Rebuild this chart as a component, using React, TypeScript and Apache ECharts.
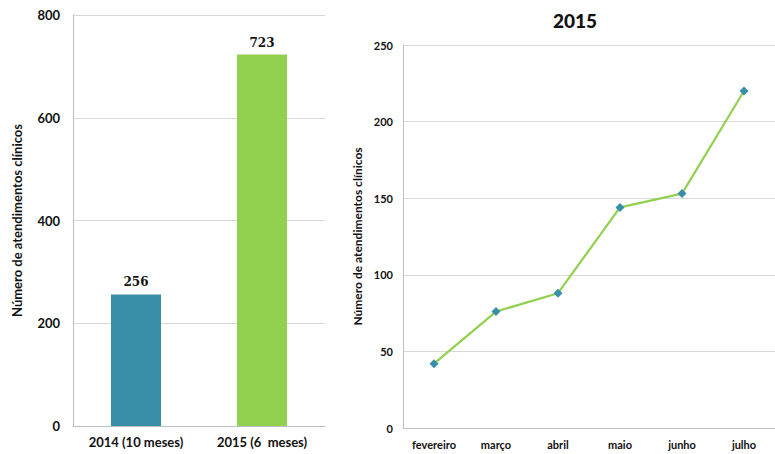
import React, { useEffect, useRef } from "react";
import * as echarts from "echarts";

const barCategories = ["2014 (10 meses)", "2015 (6  meses)"];
const barValues = [256, 723];
const barColors = ["#3a8fa8", "#92d050"];

const months = ["fevereiro", "março", "abril", "maio", "junho", "julho"];
const monthValues = [42, 76, 88, 144, 153, 220];

const yName = "Número de atendimentos clínicos";
const FONT = "Lato, 'Open Sans', sans-serif";

export default function App() {
  const ref = useRef<HTMLDivElement>(null);
  useEffect(() => {
    if (!ref.current) return;
    const chart = echarts.init(ref.current, undefined, { renderer: "svg" });
    chart.setOption({
      animation: false,
      backgroundColor: "#ffffff",
      title: {
        text: "2015",
        left: 570,
        top: 6,
        textAlign: "center",
        textStyle: { fontFamily: FONT, fontWeight: 900, fontSize: 19, color: "#111" },
      },
      grid: [
        { left: 73, top: 15, width: 252, height: 411 },
        { left: 403, top: 45, width: 384, height: 383 },
      ],
      xAxis: [
        {
          gridIndex: 0,
          type: "category",
          data: barCategories,
          axisLine: { lineStyle: { color: "#bfbfbf" } },
          axisTick: { show: false },
          axisLabel: { fontFamily: FONT, fontWeight: "bold", fontSize: 13, color: "#111", margin: 9 },
        },
        {
          gridIndex: 1,
          type: "category",
          data: months,
          axisLine: { lineStyle: { color: "#bfbfbf" } },
          axisTick: { show: false },
          axisLabel: { fontFamily: FONT, fontWeight: "bold", fontSize: 11, color: "#111", margin: 11 },
        },
      ],
      yAxis: [
        {
          gridIndex: 0,
          type: "value",
          min: 0,
          max: 800,
          interval: 200,
          name: yName,
          nameLocation: "middle",
          nameGap: 50,
          nameTextStyle: { fontFamily: FONT, fontWeight: "bold", fontSize: 13, color: "#111" },
          axisLine: { show: true, lineStyle: { color: "#bfbfbf" } },
          axisTick: { show: false },
          splitLine: { lineStyle: { color: "#d9d9d9" } },
          axisLabel: { fontFamily: FONT, fontWeight: "bold", fontSize: 13, color: "#111", margin: 13 },
        },
        {
          gridIndex: 1,
          type: "value",
          min: 0,
          max: 250,
          interval: 50,
          name: yName,
          nameLocation: "middle",
          nameGap: 40,
          nameTextStyle: { fontFamily: FONT, fontWeight: "bold", fontSize: 12, color: "#111" },
          axisLine: { show: true, lineStyle: { color: "#bfbfbf" } },
          axisTick: { show: false },
          splitLine: { lineStyle: { color: "#d9d9d9" } },
          axisLabel: { fontFamily: FONT, fontWeight: "bold", fontSize: 11, color: "#111", margin: 10 },
        },
      ],
      series: [
        {
          type: "bar",
          xAxisIndex: 0,
          yAxisIndex: 0,
          barWidth: 50,
          data: barValues.map((v, i) => ({ value: v, itemStyle: { color: barColors[i] } })),
          label: {
            show: true,
            position: "top",
            distance: 6,
            fontFamily: "'DejaVu Serif', 'Liberation Serif', serif",
            fontWeight: "bold",
            fontSize: 12,
            color: "#111",
          },
        },
        {
          type: "line",
          xAxisIndex: 1,
          yAxisIndex: 1,
          data: monthValues,
          symbol: "diamond",
          symbolSize: 9,
          lineStyle: { color: "#92d050", width: 2.2 },
          itemStyle: { color: "#3a8fa8" },
        },
      ],
    });
    return () => chart.dispose();
  }, []);
  return (
    <div
      ref={ref}
      style={{ position: "absolute", left: 0, top: 0, width: 775, height: 454 }}
    />
  );
}
